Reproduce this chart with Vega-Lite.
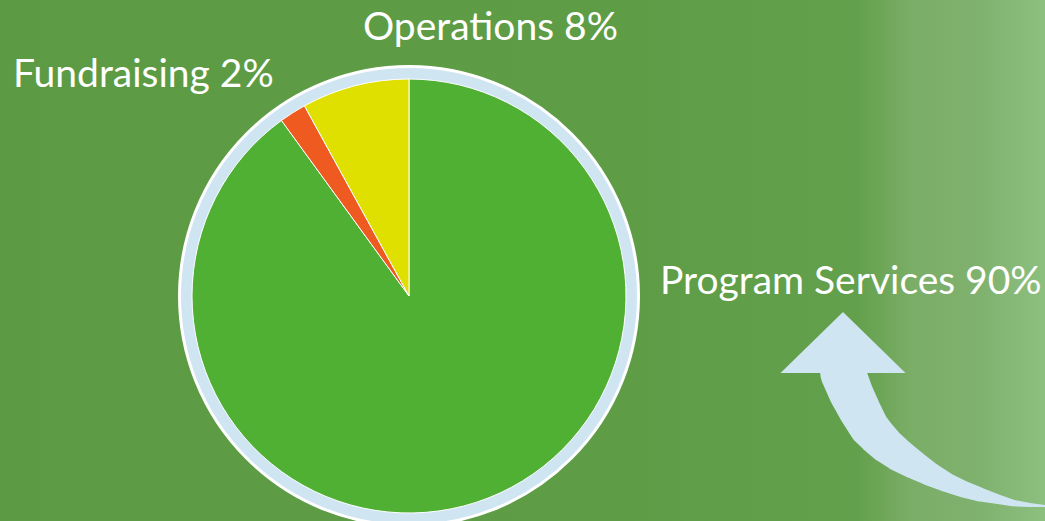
{
  "$schema": "https://vega.github.io/schema/vega-lite/v6.json",
  "width": 1045,
  "height": 521,
  "autosize": "none",
  "padding": 0,
  "background": "#5a9a44",
  "config": {"view": {"stroke": null}},
  "datasets": {
    "bg": [{"x0": 0, "x1": 1045, "y0": 0, "y1": 521}],
    "ring": [{"cx": 409, "cy": 296, "v": 100}],
    "slices": [
      {"category": "Program Services", "pct": 90, "ord": 1, "cx": 409, "cy": 296},
      {"category": "Fundraising", "pct": 2, "ord": 2, "cx": 409, "cy": 296},
      {"category": "Operations", "pct": 8, "ord": 3, "cx": 409, "cy": 296}
    ],
    "labels": [
      {"label": "Operations 8%", "lx": 363, "ly": 40},
      {"label": "Fundraising 2%", "lx": 13, "ly": 87},
      {"label": "Program Services 90%", "lx": 660, "ly": 294}
    ],
    "arrow": [
      {"ax": 843, "ay": 373, "w": 45.5, "o": 1},
      {"ax": 851, "ay": 393, "w": 44, "o": 2},
      {"ax": 860, "ay": 411, "w": 42, "o": 3},
      {"ax": 869, "ay": 427, "w": 40, "o": 4},
      {"ax": 877, "ay": 436, "w": 38, "o": 5},
      {"ax": 886, "ay": 445, "w": 36, "o": 6},
      {"ax": 899, "ay": 455, "w": 33, "o": 7},
      {"ax": 913, "ay": 464, "w": 29, "o": 8},
      {"ax": 930, "ay": 474, "w": 24, "o": 9},
      {"ax": 947, "ay": 482.5, "w": 19.5, "o": 10},
      {"ax": 963, "ay": 489, "w": 17, "o": 11},
      {"ax": 980, "ay": 494.5, "w": 14, "o": 12},
      {"ax": 997, "ay": 499, "w": 10, "o": 13},
      {"ax": 1013, "ay": 503, "w": 6.5, "o": 14},
      {"ax": 1030, "ay": 505, "w": 4, "o": 15},
      {"ax": 1045, "ay": 506, "w": 2, "o": 16}
    ],
    "head": [{"hx": 843, "hy": 373}]
  },
  "layer": [
    {
      "data": {"name": "bg"},
      "mark": {
        "type": "rect",
        "fill": {
          "gradient": "linear",
          "x1": 0, "x2": 1, "y1": 0, "y2": 0,
          "stops": [
            {"offset": 0, "color": "#5c9b44"},
            {"offset": 0.6, "color": "#5e9d46"},
            {"offset": 0.82, "color": "#63a04c"},
            {"offset": 0.87, "color": "#7aad66"},
            {"offset": 0.94, "color": "#80b26f"},
            {"offset": 1, "color": "#8cc07f"}
          ]
        }
      },
      "encoding": {
        "x": {"field": "x0", "type": "quantitative", "scale": {"domain": [0, 1045], "nice": false, "zero": false}, "axis": null},
        "x2": {"field": "x1"},
        "y": {"field": "y0", "type": "quantitative", "scale": {"domain": [0, 521], "nice": false, "zero": false, "reverse": true}, "axis": null},
        "y2": {"field": "y1"}
      }
    },
    {
      "data": {"name": "ring"},
      "mark": {"type": "arc", "radius": 229.5, "fill": "#cfe5f2", "stroke": "#ffffff", "strokeWidth": 3},
      "encoding": {
        "theta": {"field": "v", "type": "quantitative"},
        "x": {"field": "cx", "type": "quantitative", "scale": {"domain": [0, 1045], "nice": false, "zero": false}, "axis": null},
        "y": {"field": "cy", "type": "quantitative", "scale": {"domain": [0, 521], "nice": false, "zero": false, "reverse": true}, "axis": null}
      }
    },
    {
      "data": {"name": "slices"},
      "mark": {"type": "arc", "radius": 217, "stroke": "#ffffff", "strokeWidth": 1},
      "encoding": {
        "theta": {"field": "pct", "type": "quantitative", "stack": true},
        "order": {"field": "ord", "type": "quantitative"},
        "color": {
          "field": "category", "type": "nominal", "legend": null,
          "scale": {"domain": ["Program Services", "Fundraising", "Operations"], "range": ["#50b033", "#ee5a1f", "#dfe000"]}
        },
        "x": {"field": "cx", "type": "quantitative", "scale": {"domain": [0, 1045], "nice": false, "zero": false}, "axis": null},
        "y": {"field": "cy", "type": "quantitative", "scale": {"domain": [0, 521], "nice": false, "zero": false, "reverse": true}, "axis": null}
      }
    },
    {
      "data": {"name": "labels"},
      "mark": {"type": "text", "align": "left", "baseline": "alphabetic", "font": "Lato", "fontSize": 39, "fill": "#ffffff"},
      "encoding": {
        "text": {"field": "label"},
        "x": {"field": "lx", "type": "quantitative", "scale": {"domain": [0, 1045], "nice": false, "zero": false}, "axis": null},
        "y": {"field": "ly", "type": "quantitative", "scale": {"domain": [0, 521], "nice": false, "zero": false, "reverse": true}, "axis": null}
      }
    },
    {
      "data": {"name": "arrow"},
      "mark": {"type": "trail", "fill": "#cfe5f2", "color": "#cfe5f2"},
      "encoding": {
        "order": {"field": "o", "type": "quantitative"},
        "size": {"field": "w", "type": "quantitative", "scale": null},
        "x": {"field": "ax", "type": "quantitative", "scale": {"domain": [0, 1045], "nice": false, "zero": false}, "axis": null},
        "y": {"field": "ay", "type": "quantitative", "scale": {"domain": [0, 521], "nice": false, "zero": false, "reverse": true}, "axis": null}
      }
    },
    {
      "data": {"name": "head"},
      "mark": {"type": "point", "shape": "M-1,0L1,0L0,-0.976Z", "size": 15625, "filled": true, "fill": "#cfe5f2", "opacity": 1, "strokeWidth": 0},
      "encoding": {
        "x": {"field": "hx", "type": "quantitative", "scale": {"domain": [0, 1045], "nice": false, "zero": false}, "axis": null},
        "y": {"field": "hy", "type": "quantitative", "scale": {"domain": [0, 521], "nice": false, "zero": false, "reverse": true}, "axis": null}
      }
    }
  ]
}
